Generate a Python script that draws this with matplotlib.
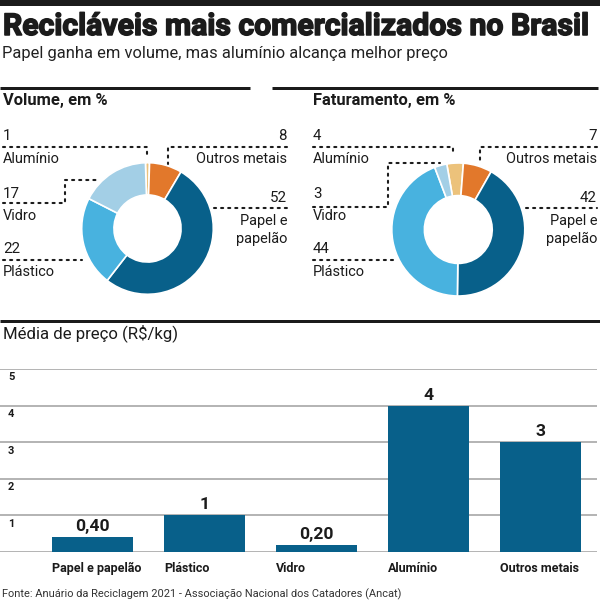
import numpy as np
import matplotlib
matplotlib.use("Agg")
import matplotlib.pyplot as plt
import matplotlib.transforms as mtransforms
import matplotlib.patheffects as pe

# Dados
materiais = ["Papel e papelão", "Plástico", "Vidro", "Alumínio", "Outros metais"]
volume = [52, 22, 17, 1, 8]
faturamento = [42, 44, 3, 4, 7]
preco = [0.40, 1, 0.20, 4, 3]
preco_txt = ["0,40", "1", "0,20", "4", "3"]
y_ticks = [1, 2, 3, 4, 5]

titulo = "Recicláveis mais comercializados no Brasil"
subtitulo = "Papel ganha em volume, mas alumínio alcança melhor preço"
fonte = "Fonte: Anuário da Reciclagem 2021 - Associação Nacional dos Catadores (Ancat)"

cores = {
    "Papel e papelão": "#08608a",
    "Plástico": "#48b2df",
    "Vidro": "#a3cfe6",
    "Alumínio": "#ecc27b",
    "Outros metais": "#e2782b",
}
ordem_pizza = ["Alumínio", "Outros metais", "Papel e papelão", "Plástico", "Vidro"]

NARROW = ["Roboto", "DejaVu Sans"]
ESCURO = "#1b1b1b"
W = H = 600


def pt(px):
    return px * 0.72


fig = plt.figure(figsize=(6, 6), dpi=100)
fig.patch.set_facecolor("white")

# camada em pixels para textos e linhas guia
base = fig.add_axes([0, 0, 1, 1])
base.set_xlim(0, W)
base.set_ylim(H, 0)
base.axis("off")


def txt(x, y, s, size, ha="left", weight="normal", color=ESCURO):
    return base.text(x, y, s, fontsize=pt(size), ha=ha, va="baseline",
                     fontweight=weight, color=color, family=NARROW)


def pontilhado(pts):
    xs, ys = zip(*pts)
    base.plot(xs, ys, color=ESCURO, lw=1.5, linestyle=(0, (1, 2.4)),
              solid_capstyle="round", dash_capstyle="round")


# cabeçalho
base.plot([0, W], [3, 3], color=ESCURO, lw=pt(6), solid_capstyle="butt")
t = txt(3, 35, titulo, 30.2, weight="bold")
t.set_path_effects([pe.withStroke(linewidth=1.1, foreground=ESCURO)])
txt(2, 58, subtitulo, 16.5, color="#222222")
base.plot([0, 250], [87.5, 87.5], color=ESCURO, lw=pt(3), solid_capstyle="butt")
base.plot([272, 598], [87.5, 87.5], color=ESCURO, lw=pt(3), solid_capstyle="butt")


def donut(cx, cy, r, valores, inicio, titulo_painel, x0, x1, guias):
    ax = fig.add_axes([(cx - r) / W, 1 - (cy + r) / H, 2 * r / W, 2 * r / H])
    vals = [valores[materiais.index(m)] for m in ordem_pizza]
    ax.pie(vals, colors=[cores[m] for m in ordem_pizza], startangle=inicio,
           counterclock=False, radius=1,
           wedgeprops=dict(width=0.49, edgecolor="white", linewidth=1.2))
    ax.set_xlim(-1, 1)
    ax.set_ylim(-1, 1)
    ax.set_aspect("equal")

    txt(x0, 105, titulo_painel, 16.5, weight="bold")
    d = dict(zip(materiais, valores))
    # número e nome de cada material
    txt(x0, 140, str(d["Alumínio"]), 15)
    txt(x0, 163, "Alumínio", 14.5)
    txt(x1, 140, str(d["Outros metais"]), 15, ha="right")
    txt(x1, 163, "Outros metais", 14.5, ha="right")
    txt(x0, 198, str(d["Vidro"]), 15)
    txt(x0, 220, "Vidro", 14.5)
    txt(x1, 202, str(d["Papel e papelão"]), 15, ha="right")
    txt(x1, 225, "Papel e", 14.5, ha="right")
    txt(x1, 243, "papelão", 14.5, ha="right")
    txt(x0, 253, str(d["Plástico"]), 15)
    txt(x0, 276, "Plástico", 14.5)
    for g in guias:
        pontilhado(g)


donut(147.5, 228.5, 65.8, volume, 91.8, "Volume, em %", 3, 287, [
    [(3, 147), (147, 147), (147, 157)],
    [(287, 147), (168, 147), (168, 164)],
    [(3, 203), (65, 203), (65, 180), (100, 180)],
    [(214, 208), (287, 208)],
    [(3, 260), (82, 260)],
])

donut(458.3, 229.5, 66.5, faturamento, 100, "Faturamento, em %", 313, 597, [
    [(313, 147), (453, 147), (453, 154)],
    [(597, 147), (480, 147), (480, 164)],
    [(313, 207), (388, 207), (388, 163), (440, 163)],
    [(526, 208), (597, 208)],
    [(313, 260), (395, 260)],
])

# separador e barras
base.plot([0, W], [320.5, 320.5], color=ESCURO, lw=pt(3), solid_capstyle="butt")
txt(3, 338, "Média de preço (R$/kg)", 16.7)
txt(2, 597, fonte, 11, color="#333333")

passo = 112.0
ax = fig.add_axes([0, 1 - 552 / H, 597 / W, (552 - 369) / H])
x = np.arange(len(materiais))
largura = 81 / passo
ax.bar(x, preco, width=largura, color=cores["Papel e papelão"], zorder=3)
ax.set_xlim(-92.5 / passo, (597 - 92.5) / passo)
ax.set_ylim(0, 5)
ax.axis("off")
for v in [0] + y_ticks:
    ax.axhline(v, color="#a3a3a3", lw=pt(1.6), zorder=1)

mistura = mtransforms.blended_transform_factory(ax.transAxes, ax.transData)
for v in y_ticks:
    ax.annotate(str(v), xy=(8 / 597, v), xycoords=mistura, xytext=(0, -pt(3.5)),
                textcoords="offset points", ha="left", va="top",
                fontsize=pt(11), fontweight="bold", color=ESCURO, family=NARROW)

for i, (v, s) in enumerate(zip(preco, preco_txt)):
    ax.annotate(s, xy=(i, v), xytext=(0, pt(6)), textcoords="offset points",
                ha="center", va="baseline", fontsize=pt(17.5), fontweight="bold",
                color=ESCURO, family=NARROW, annotation_clip=False)
    ax.annotate(materiais[i], xy=(i - largura / 2, 0), xytext=(0, -pt(20)),
                textcoords="offset points", ha="left", va="baseline",
                fontsize=pt(12.5), fontweight="bold", color=ESCURO, family=NARROW,
                annotation_clip=False)

fig.savefig("out.png", dpi=100)
